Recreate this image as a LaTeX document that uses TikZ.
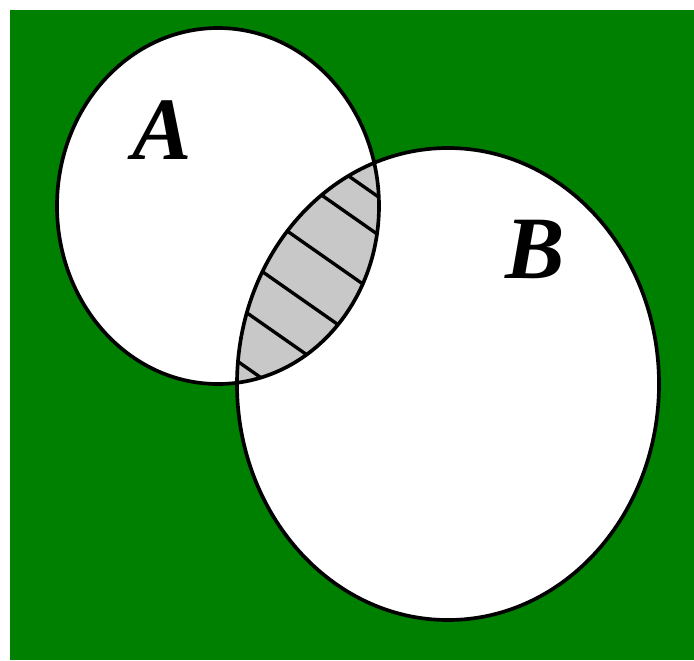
\documentclass[tikz,border=0pt]{standalone}
\usepackage{fontspec}
\setmainfont{Liberation Serif}
\definecolor{venngreen}{RGB}{0,128,0}
\definecolor{lensgray}{RGB}{200,200,200}
\tikzset{
  setA/.style={insert path={(218,206) ellipse [x radius=161, y radius=178]}},
  setB/.style={insert path={(448,384) ellipse [x radius=211, y radius=236]}},
  outline/.style={draw=black, line width=0.11cm},
  hatch/.style={draw=black, line width=0.1cm},
  setlabel/.style={font=\fontsize{76}{76}\selectfont\bfseries\itshape, inner sep=0pt},
}

\begin{document}
\begin{tikzpicture}[x=0.03cm, y=-0.03cm]
  \useasboundingbox (0,0) rectangle (694,660);
  \fill[venngreen] (10,10) rectangle (694,660);
  \fill[white, setA];
  \fill[white, setB];
  % shaded intersection
  \begin{scope}
    \clip[setA];
    \clip[setB];
    \fill[lensgray] (200,150) rectangle (400,400);
    \foreach \c in {-68,-30,30,88,140,195}
      \draw[hatch] (200,140+\c) -- (420,294+\c);
  \end{scope}
  \path[outline, setA];
  \path[outline, setB];
  \node[setlabel] (labelA) at (162,130) {A};
  \node[setlabel] (labelB) at (535,249) {B};
\end{tikzpicture}
\end{document}
